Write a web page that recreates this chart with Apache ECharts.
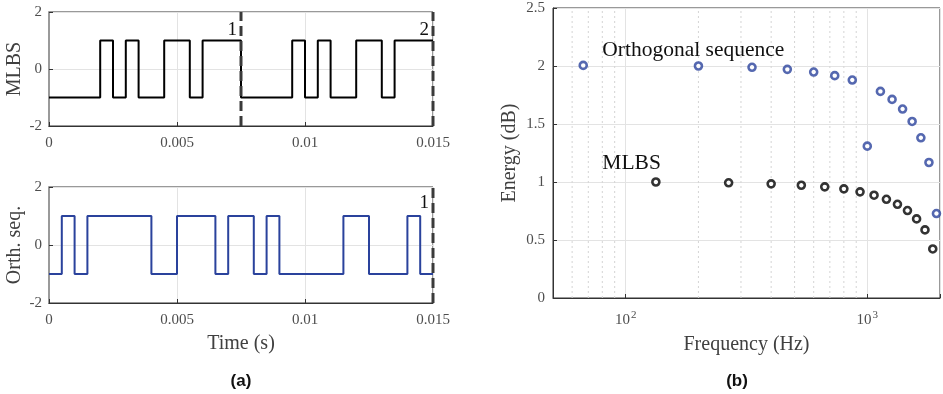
<!DOCTYPE html>
<html><head><meta charset="utf-8">
<script src="https://cdn.jsdelivr.net/npm/echarts@6/dist/echarts.min.js"></script>
<style>html,body{margin:0;padding:0;background:#fff}#c{width:943px;height:394px}</style>
</head><body><div id="c"></div>
<script>
// ---- data ----
const chipDuration = 0.0005; // s
const mlbsChips = [-1,-1,-1,-1,1,-1,1,-1,-1,1,1,-1,1,1,1,
                   -1,-1,-1,-1,1,-1,1,-1,-1,1,1,-1,1,1,1];
const orthChips = [-1,1,-1,1,1,1,1,1,-1,-1,1,1,1,-1,1,1,-1,1,-1,-1,-1,-1,-1,1,1,-1,-1,-1,1,-1];
const mlbsMarkers = [0.0075, 0.015];
const mlbsMarkerLabels = ['1', '2'];
const orthMarkers = [0.015];
const orthMarkerLabels = ['1'];
const orthFreq = [66.7, 200, 333.3, 466.7, 600, 733.3, 866.7, 1000, 1133.3, 1266.7, 1400, 1533.3, 1666.7, 1800, 1933.3];
const orthEnergy = [2.005, 2.0, 1.989, 1.971, 1.948, 1.917, 1.879, 1.309, 1.781, 1.712, 1.629, 1.522, 1.381, 1.168, 0.728];
const mlbsFreq = [133.3, 266.7, 400, 533.3, 666.7, 800, 933.3, 1066.7, 1200, 1333.3, 1466.7, 1600, 1733.3, 1866.7];
const mlbsEnergy = [1.0, 0.993, 0.984, 0.972, 0.958, 0.941, 0.915, 0.886, 0.851, 0.808, 0.754, 0.682, 0.587, 0.423];
const minorFreqGrid = [60, 70, 80, 90, 200, 300, 400, 500, 600, 700, 800, 900];

// ---- build ----
function stepData(chips) {
  const d = chips.map((v, i) => [i * chipDuration, v]);
  d.push([chips.length * chipDuration, chips[chips.length - 1]]);
  return d;
}
const SERIF = '"Liberation Serif", "DejaVu Serif", serif';
const tickColor = '#4d4d4d';
const nameColor = '#404040';
const BLUE = '#2a429c';

function timeX(gridIndex) {
  return {
    type: 'value', gridIndex, min: 0, max: 0.015, interval: 0.005,
    axisLine: { show: true, onZero: false, lineStyle: { color: '#333', width: 1 } },
    axisTick: { show: true, inside: true, length: 4, lineStyle: { color: '#333' } },
    axisLabel: { color: tickColor, fontFamily: SERIF, fontSize: 15, margin: 10,
      formatter: v => String(+v.toFixed(4)) },
    splitLine: { show: true, lineStyle: { color: '#e3e3e3', width: 1 } }
  };
}
function seqY(gridIndex, name) {
  return {
    type: 'value', gridIndex, min: -2, max: 2, interval: 2,
    name, nameLocation: 'middle', nameGap: 24,
    nameTextStyle: { color: nameColor, fontFamily: SERIF, fontSize: 20 },
    axisLine: { show: true, onZero: false, lineStyle: { color: '#9a9a9a', width: 2 } },
    axisTick: { show: true, inside: true, length: 4, lineStyle: { color: '#333' } },
    axisLabel: { color: tickColor, fontFamily: SERIF, fontSize: 15, margin: 7 },
    splitLine: { show: true, lineStyle: { color: '#e3e3e3', width: 1 } }
  };
}
function dashSeries(axisIndex, xs, labels, yLab) {
  return xs.map((x, i) => ({
    type: 'line', xAxisIndex: axisIndex, yAxisIndex: axisIndex, symbol: 'none', z: 5,
    silent: true,
    lineStyle: { color: '#3a3a3a', width: 3, type: [10, 5] },
    data: [[x, -2], [x, 2]],
    markPoint: {
      silent: true, symbol: 'circle', symbolSize: 0, animation: false,
      label: { show: true, position: 'left', distance: 4, color: '#111', fontFamily: SERIF, fontSize: 19,
        formatter: p => p.name },
      data: [{ name: labels[i], coord: [x, yLab] }]
    }
  }));
}

const supRich = { sup: { fontSize: 11, fontFamily: SERIF, color: tickColor, verticalAlign: 'top', padding: [0, 0, 9, 1] } };

const option = {
  animation: false,
  title: [
    { text: '(a)', left: 236, top: 368, textAlign: 'center',
      textStyle: { fontFamily: '"Liberation Sans", Arial, sans-serif', fontWeight: 'bold', fontSize: 17, color: '#111' } },
    { text: '(b)', left: 732, top: 368, textAlign: 'center',
      textStyle: { fontFamily: '"Liberation Sans", Arial, sans-serif', fontWeight: 'bold', fontSize: 17, color: '#111' } }
  ],
  grid: [
    { left: 49, top: 12, width: 384, height: 114, show: true, borderColor: '#333', borderWidth: 1, backgroundColor: 'transparent' },
    { left: 49, top: 187, width: 384, height: 116, show: true, borderColor: '#333', borderWidth: 1, backgroundColor: 'transparent' },
    { left: 553, top: 8, width: 389, height: 290, show: true, borderColor: '#333', borderWidth: 1, backgroundColor: 'transparent' }
  ],
  xAxis: [
    timeX(0),
    Object.assign(timeX(1), { name: 'Time (s)', nameLocation: 'middle', nameGap: 31,
      nameTextStyle: { color: nameColor, fontFamily: SERIF, fontSize: 20 } }),
    {
      type: 'log', gridIndex: 2, min: 50, max: 2000, logBase: 10,
      name: 'Frequency (Hz)', nameLocation: 'middle', nameGap: 37,
      nameTextStyle: { color: nameColor, fontFamily: SERIF, fontSize: 20 },
      axisLine: { show: true, onZero: false, lineStyle: { color: '#333', width: 1 } },
      axisTick: { show: true, inside: true, length: 4, lineStyle: { color: '#333' } },
      axisLabel: { color: tickColor, fontFamily: SERIF, fontSize: 15, margin: 12, rich: supRich,
        showMinLabel: true, showMaxLabel: true,
        formatter: v => { const l = Math.log10(v); return Math.abs(l - Math.round(l)) < 1e-6 ? '10{sup|' + Math.round(l) + '}' : ''; } },
      splitLine: { show: true, lineStyle: { color: '#e3e3e3', width: 1 } }
    }
  ],
  yAxis: [
    seqY(0, 'MLBS'),
    seqY(1, 'Orth. seq.'),
    {
      type: 'value', gridIndex: 2, min: 0, max: 2.5, interval: 0.5,
      name: 'Energy (dB)', nameLocation: 'middle', nameGap: 33,
      nameTextStyle: { color: nameColor, fontFamily: SERIF, fontSize: 20 },
      axisLine: { show: true, onZero: false, lineStyle: { color: '#333', width: 1 } },
      axisTick: { show: true, inside: true, length: 4, lineStyle: { color: '#333' } },
      axisLabel: { color: tickColor, fontFamily: SERIF, fontSize: 15, margin: 8 },
      splitLine: { show: true, lineStyle: { color: '#e3e3e3', width: 1 } }
    }
  ],
  series: [
    {
      type: 'line', xAxisIndex: 0, yAxisIndex: 0, step: 'end', symbol: 'none',
      lineStyle: { color: '#000', width: 2 }, z: 3,
      data: stepData(mlbsChips)
    },
    {
      type: 'line', xAxisIndex: 1, yAxisIndex: 1, step: 'end', symbol: 'none',
      lineStyle: { color: BLUE, width: 2 }, z: 3,
      data: stepData(orthChips)
    },
    ...dashSeries(0, mlbsMarkers, mlbsMarkerLabels, 1.37),
    ...dashSeries(1, orthMarkers, orthMarkerLabels, 1.44),
    ...minorFreqGrid.map(f => ({
      type: 'line', xAxisIndex: 2, yAxisIndex: 2, symbol: 'none', z: 1, silent: true,
      lineStyle: { color: '#d4d4d4', width: 1, type: [2, 3] },
      data: [[f, 0], [f, 2.5]]
    })),
    {
      type: 'scatter', xAxisIndex: 2, yAxisIndex: 2, symbol: 'circle', symbolSize: 7, z: 4,
      itemStyle: { color: '#fff', borderColor: BLUE, borderWidth: 2.6 },
      data: orthFreq.map((f, i) => [f, orthEnergy[i]]),
      markPoint: { silent: true, symbol: 'circle', symbolSize: 0, animation: false,
        label: { show: true, position: 'right', distance: 0, color: '#111', fontFamily: SERIF, fontSize: 21.5, formatter: p => p.name },
        data: [{ name: 'Orthogonal sequence', coord: [80, 2.138] }] }
    },
    {
      type: 'scatter', xAxisIndex: 2, yAxisIndex: 2, symbol: 'circle', symbolSize: 7, z: 4,
      itemStyle: { color: '#fff', borderColor: '#000', borderWidth: 2.6 },
      data: mlbsFreq.map((f, i) => [f, mlbsEnergy[i]]),
      markPoint: { silent: true, symbol: 'circle', symbolSize: 0, animation: false,
        label: { show: true, position: 'right', distance: 0, color: '#111', fontFamily: SERIF, fontSize: 21.5, formatter: p => p.name },
        data: [{ name: 'MLBS', coord: [80, 1.163] }] }
    }
  ]
};
const chart = echarts.init(document.getElementById('c'), null, { renderer: 'canvas' });
chart.setOption(option);
</script></body></html>
